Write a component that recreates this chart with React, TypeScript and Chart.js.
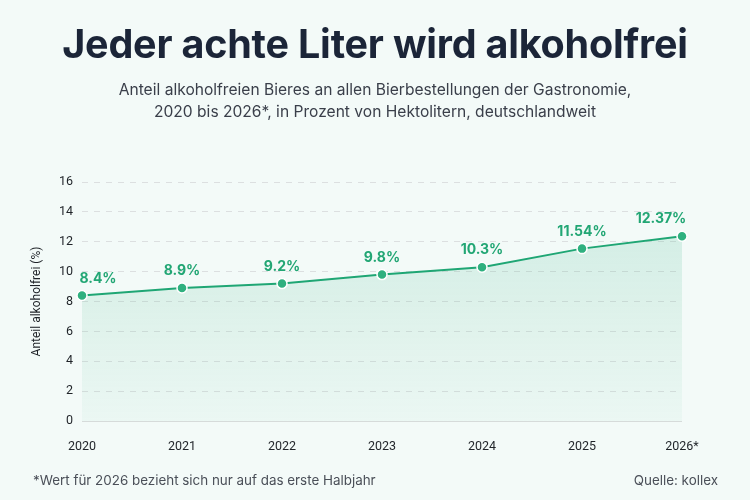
import React, { useEffect, useRef } from "react";
import { Chart, registerables } from "chart.js";

Chart.register(...registerables);

const categories = ["2020", "2021", "2022", "2023", "2024", "2025", "2026*"];
const shares = [8.4, 8.9, 9.2, 9.8, 10.3, 11.54, 12.37];
const valueLabels = ["8.4%", "8.9%", "9.2%", "9.8%", "10.3%", "11.54%", "12.37%"];
const yTicks = [0, 2, 4, 6, 8, 10, 12, 14, 16];

const titleText = "Jeder achte Liter wird alkoholfrei";
const subtitleLines = [
  "Anteil alkoholfreien Bieres an allen Bierbestellungen der Gastronomie,",
  "2020 bis 2026*, in Prozent von Hektolitern, deutschlandweit",
];
const footnote = "*Wert für 2026 bezieht sich nur auf das erste Halbjahr";
const source = "Quelle: kollex";
const yTitle = "Anteil alkoholfrei (%)";

const GREEN = "#1fa674";
const BG = "#f3faf8";
const TICK_FONT = "Roboto, Inter, sans-serif";

const labelPlugin = {
  id: "valueLabels",
  afterDatasetsDraw(chart: any) {
    const ctx = chart.ctx;
    const meta = chart.getDatasetMeta(0);
    ctx.save();
    ctx.font = "700 14px Inter, 'Noto Sans', sans-serif";
    ctx.fillStyle = "#22a674";
    ctx.textAlign = "center";
    ctx.textBaseline = "bottom";
    meta.data.forEach((pt: any, i: number) => {
      let x = pt.x;
      if (i === 0) x = pt.x + 16;
      if (i === meta.data.length - 1) x = pt.x - 21;
      ctx.fillText(valueLabels[i], x, pt.y - 10);
    });
    ctx.restore();
  },
};

const zeroLinePlugin = {
  id: "zeroLine",
  beforeDatasetsDraw(chart: any) {
    const { ctx, chartArea, scales } = chart;
    const y0 = Math.round(scales.y.getPixelForValue(0)) + 0.5;
    ctx.save();
    ctx.strokeStyle = "#d6dbda";
    ctx.lineWidth = 1;
    ctx.setLineDash([]);
    ctx.beginPath();
    ctx.moveTo(chartArea.left, y0);
    ctx.lineTo(chartArea.right, y0);
    ctx.stroke();
    ctx.restore();
  },
};

export default function App() {
  const ref = useRef<HTMLCanvasElement>(null);
  useEffect(() => {
    const canvas = ref.current!;
    const c2d = canvas.getContext("2d")!;
    const grad = c2d.createLinearGradient(0, 230, 0, 421);
    grad.addColorStop(0, "rgba(52, 180, 130, 0.16)");
    grad.addColorStop(1, "rgba(52, 180, 130, 0.04)");
    const chart = new Chart(canvas, {
      type: "line",
      data: {
        labels: categories,
        datasets: [
          {
            data: shares,
            borderColor: GREEN,
            borderWidth: 2,
            backgroundColor: grad,
            fill: "origin",
            tension: 0,
            pointRadius: 5,
            pointBackgroundColor: "#2fb07f",
            pointBorderColor: "#ffffff",
            pointBorderWidth: 1.5,
          },
        ],
      },
      options: {
        animation: false,
        responsive: false,
        maintainAspectRatio: false,
        layout: { padding: { top: 182, right: 68, bottom: 36, left: 30 } },
        plugins: {
          legend: { display: false },
          tooltip: { enabled: false },
          title: { display: false },
        },
        scales: {
          x: {
            offset: false,
            grid: { display: false, drawTicks: false },
            border: { display: false },
            ticks: {
              color: "#1f2328",
              font: { family: TICK_FONT, size: 12.5 },
              padding: 18,
              maxRotation: 0,
              autoSkip: false,
            },
            afterFit(scale: any) {
              scale.height = 43;
            },
          },
          y: {
            min: 0,
            max: 16,
            afterBuildTicks(scale: any) {
              scale.ticks = yTicks.map((v) => ({ value: v }));
            },
            grid: {
              color: (ctx: any) => (ctx.tick && ctx.tick.value === 0 ? "rgba(0,0,0,0)" : "#dcdfe0"),
              lineWidth: 1,
              drawTicks: false,
            },
            border: { display: false, dash: [6, 6] },
            ticks: {
              color: "#1f2328",
              font: { family: TICK_FONT, size: 12.5 },
              padding: 9,
            },
            title: {
              display: true,
              text: yTitle,
              color: "#1f2328",
              font: { family: TICK_FONT, size: 12 },
              padding: { top: 0, bottom: 8 },
            },
            afterFit(scale: any) {
              scale.width = 52;
            },
          },
        },
      },
      plugins: [labelPlugin, zeroLinePlugin],
    } as any);
    return () => chart.destroy();
  }, []);

  return (
    <div
      style={{
        position: "fixed",
        left: 0,
        top: 0,
        width: 750,
        height: 500,
        background: BG,
        fontFamily: "Inter, 'Noto Sans', sans-serif",
        overflow: "hidden",
      }}
    >
      <canvas ref={ref} width={750} height={500} style={{ position: "absolute", left: 0, top: 0 }} />
      <div
        style={{
          position: "absolute",
          top: 19,
          left: 0,
          width: 750,
          textAlign: "center",
          fontSize: 39.5,
          lineHeight: "50px",
          fontWeight: 700,
          color: "#1b2538",
          letterSpacing: -0.2,
        }}
      >
        {titleText}
      </div>
      <div
        style={{
          position: "absolute",
          top: 79,
          left: 0,
          width: 750,
          textAlign: "center",
          fontSize: 15.6,
          lineHeight: "22px",
          color: "#3a3f4a",
        }}
      >
        {subtitleLines.map((l) => (
          <div key={l}>{l}</div>
        ))}
      </div>
      <div style={{ position: "absolute", left: 33, top: 472, fontSize: 13.4, color: "#4a4f58" }}>{footnote}</div>
      <div style={{ position: "absolute", right: 32, top: 472, fontSize: 13.4, color: "#4a4f58" }}>{source}</div>
    </div>
  );
}
